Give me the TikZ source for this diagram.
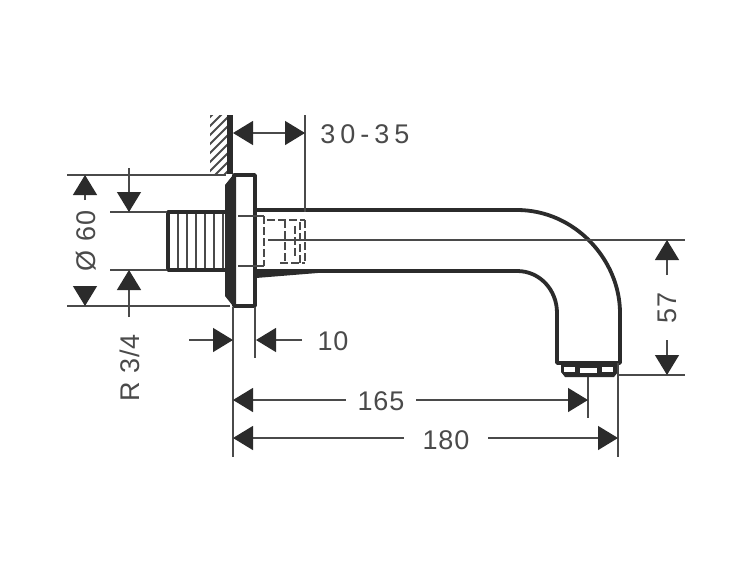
\documentclass[tikz,border=0pt]{standalone}
\usepackage{fontspec}
\setmainfont[LetterSpace=3]{Liberation Sans}
\usetikzlibrary{arrows.meta}
\definecolor{inkdark}{HTML}{2B2B2B}
\definecolor{inkgray}{HTML}{4A4A4A}
\tikzset{
    outline/.style = {draw=inkdark, line width=3.8pt, line join=round},
    thinline/.style = {draw=inkgray, line width=1.3pt},
    hatchline/.style = {draw=inkgray, line width=1.8pt},
    dashline/.style = {draw=inkgray, line width=1.5pt, dash pattern=on 8pt off 3pt},
    dimarrow/.style = {thinline, -{Triangle[length=20pt, width=24pt, color=inkdark]}},
    dimboth/.style = {thinline, {Triangle[length=20pt, width=24pt, color=inkdark]}-{Triangle[length=20pt, width=24pt, color=inkdark]}},
    dimlabel/.style = {text=inkgray, inner sep=0pt, font=\fontsize{27}{29}\selectfont}
}
\begin{document}
\begin{tikzpicture}[x=1pt, y=-1pt]
    \useasboundingbox (0,0) rectangle (750,563);
    % wall
    \begin{scope}
        \clip (210,115) rectangle (227,173);
        \foreach \hy in {110,119,...,200} {
            \draw[hatchline] (208,\hy) -- (229,\hy-21);
        }
    \end{scope}
    \fill[inkdark] (227,115) rectangle (233,174);
    % thread
    \foreach \tx in {178,187,196,205,214,223} {
        \draw[thinline] (\tx,212) -- (\tx,270);
    }
    \draw[outline] (226,212) -- (168,212) -- (168,270) -- (226,270);
    % plate
    \fill[inkdark] (233,175) -- (225,185) -- (225,296) -- (233,306) -- (236,306) -- (236,175) -- cycle;
    \draw[outline] (234,175) rectangle (255,306);
    % hidden part
    \draw[thinline] (238,216) -- (264,216);
    \draw[thinline] (238,266) -- (264,266);
    \draw[dashline] (264,216) -- (264,266);
    \draw[dashline] (267,220) -- (305,220);
    \draw[dashline] (280,263) -- (305,263);
    \foreach \dx/\dya/\dyb in {285/220/263, 295/226/258, 300/222/263, 305/220/263} {
        \draw[dashline] (\dx,\dya) -- (\dx,\dyb);
    }
    % spout
    \draw[outline] (256,210) -- (517,210) .. controls (575,210) and (620,260) .. (620,313) -- (620,363)
        -- (557,363) -- (557,313) .. controls (557,290) and (540,271) .. (517,271) -- (256,271);
    \fill[inkdark] (256,272) -- (330,272) -- (256,278) -- cycle;
    \fill[inkdark] (561,363) -- (561,372) -- (565,377) -- (614,377) -- (618,372) -- (618,363) -- cycle;
    \fill[white] (564,367) rectangle (575,372);
    \fill[white] (580,368) rectangle (597,373);
    \fill[white] (602,367) rectangle (613,372);
    % extension lines
    \coordinate (topa) at (67,175);
    \coordinate (topb) at (226,175);
    \coordinate (bota) at (67,306);
    \coordinate (botb) at (230,306);
    \coordinate (thra) at (110,212);
    \coordinate (thrb) at (167,212);
    \coordinate (thrc) at (110,270);
    \coordinate (thrd) at (167,270);
    \coordinate (cena) at (268,240);
    \coordinate (cenb) at (685,240);
    \coordinate (tipa) at (618,375);
    \coordinate (tipb) at (685,375);
    \coordinate (wala) at (233,307);
    \coordinate (walb) at (233,457);
    \coordinate (plta) at (255,307);
    \coordinate (pltb) at (255,358);
    \coordinate (inna) at (305,115);
    \coordinate (innb) at (305,212);
    \coordinate (aera) at (588,377);
    \coordinate (aerb) at (588,418);
    \coordinate (enda) at (618,363);
    \coordinate (endb) at (618,457);
    \foreach \ea/\eb in {topa/topb, bota/botb, thra/thrb, thrc/thrd, cena/cenb, tipa/tipb, wala/walb, plta/pltb, inna/innb, aera/aerb, enda/endb} {
        \draw[thinline] (\ea) -- (\eb);
    }
    % dimension arrows
    \coordinate (diaa) at (85,200);
    \coordinate (diab) at (85,175);
    \coordinate (diac) at (85,287);
    \coordinate (diad) at (85,306);
    \draw[dimarrow] (diaa) -- (diab);
    \draw[dimarrow] (diac) -- (diad);
    \coordinate (rtha) at (129,168);
    \coordinate (rthb) at (129,212);
    \coordinate (rthc) at (129,317);
    \coordinate (rthd) at (129,270);
    \draw[dimarrow] (rtha) -- (rthb);
    \draw[dimarrow] (rthc) -- (rthd);
    \coordinate (inda) at (233,133);
    \coordinate (indb) at (305,133);
    \draw[dimboth] (inda) -- (indb);
    \coordinate (tena) at (189,340);
    \coordinate (tenb) at (233,340);
    \coordinate (tenc) at (302,340);
    \coordinate (tend) at (256,340);
    \draw[dimarrow] (tena) -- (tenb);
    \draw[dimarrow] (tenc) -- (tend);
    \coordinate (hgta) at (667,275);
    \coordinate (hgtb) at (667,240);
    \coordinate (hgtc) at (667,340);
    \coordinate (hgtd) at (667,375);
    \draw[dimarrow] (hgta) -- (hgtb);
    \draw[dimarrow] (hgtc) -- (hgtd);
    % labels
    \node[dimlabel] (lbldia) at (86,241) [rotate=90] {Ø 60};
    \node[dimlabel] (lblthr) at (130,368) [rotate=90] {R 3/4};
    \node[dimlabel] (lblins) at (365,134) {3\kern5pt0\kern5pt-\kern5pt3\kern5pt5};
    \node[dimlabel] (lblten) at (333,341) {10};
    \node[dimlabel] (lblhgt) at (667,308) [rotate=90] {57};
    \node[dimlabel, minimum width=70pt] (lblspt) at (381,401) {165};
    \node[dimlabel, minimum width=84pt] (lbltot) at (446,440) {180};
    \coordinate (spta) at (233,400);
    \coordinate (sptb) at (588,400);
    \coordinate (tota) at (233,438);
    \coordinate (totb) at (618,438);
    \draw[dimarrow] (lblspt.west |- spta) -- (spta);
    \draw[dimarrow] (lblspt.east |- sptb) -- (sptb);
    \draw[dimarrow] (lbltot.west |- tota) -- (tota);
    \draw[dimarrow] (lbltot.east |- totb) -- (totb);
\end{tikzpicture}
\end{document}
